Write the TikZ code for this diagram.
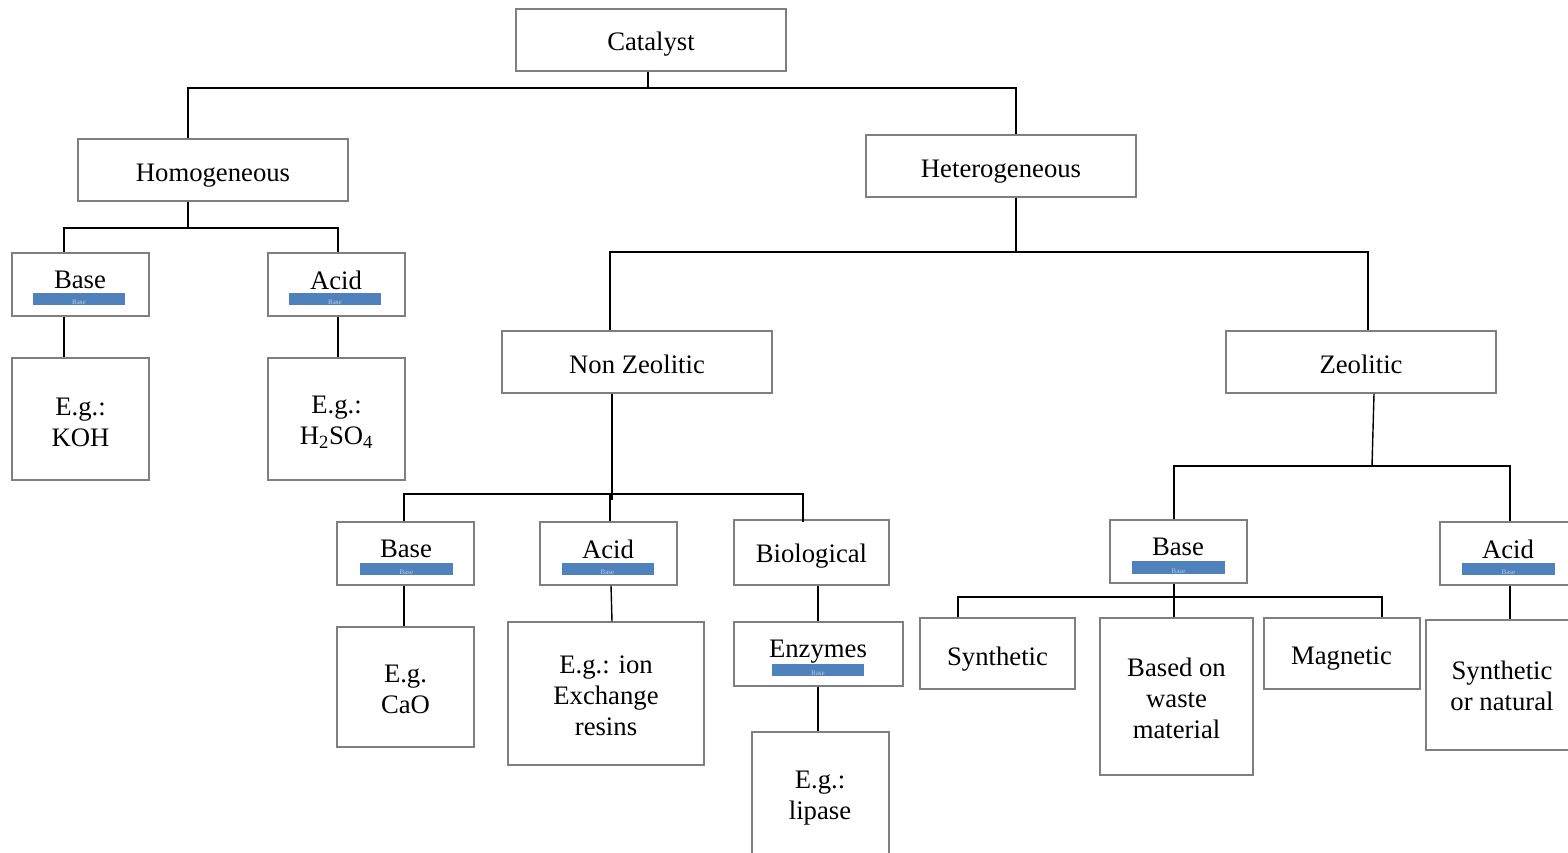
\documentclass[tikz,border=0pt]{standalone}
\usepackage{fontspec}
\setmainfont{Liberation Serif}
\definecolor{boxgray}{HTML}{7F7F7F}
\definecolor{barblue}{HTML}{4F81BD}
\definecolor{bartext}{HTML}{B9CDE8}
\begin{document}
\begin{tikzpicture}[x=1pt,y=-1pt,
  box/.style={draw=boxgray, line width=1.2pt, fill=white, inner sep=0pt},
  lbl/.style={inner sep=0pt, align=center, font=\fontsize{26.7}{31}\selectfont},
  bar/.style={fill=barblue, inner sep=0pt, minimum width=92pt, minimum height=12pt},
  bartxt/.style={inner sep=0pt, font=\fontsize{7}{7}\selectfont, text=bartext},
  conn/.style={line width=2pt, black},
  connthin/.style={line width=1.4pt, black}]
\useasboundingbox (0,0) rectangle (1568,853);
\clip (0,0) rectangle (1568,853);

% top levels
\node[box, minimum width=270pt, minimum height=62pt] (cat)  at (651,40)  {};
\node[lbl] (catt) at (651,44) {Catalyst};
\node[box, minimum width=270pt, minimum height=62pt] (homo) at (213,170) {};
\node[lbl] (homot) at (213,176) {Homogeneous};
\node[box, minimum width=270pt, minimum height=62pt] (het)  at (1001,166) {};
\node[lbl] (hett) at (1001,172) {Heterogeneous};

% homogeneous branch
\node[box, minimum width=137pt, minimum height=63pt] (base1) at (80.5,284.5) {};
\node[lbl] (base1t) at (80,280) {Base};
\node[bar] (base1b) at (79,299) {};
\node[bartxt] (base1x) at (79,302) {Base};
\node[box, minimum width=137pt, minimum height=63pt] (acid1) at (336.5,284.5) {};
\node[lbl] (acid1t) at (336,280) {Acid};
\node[bar] (acid1b) at (335,299) {};
\node[bartxt] (acid1x) at (335,302) {Base};
\node[box, minimum width=137pt, minimum height=122pt] (koh) at (80.5,419) {};
\node[lbl] (koht) at (80.5,422) {E.g.:\\KOH};
\node[box, minimum width=137pt, minimum height=122pt] (hso) at (336.5,419) {};
\node[lbl] (hsot) at (336.5,422.5) {E.g.:\\H\textsubscript{2}SO\textsubscript{4}};

% heterogeneous branch
\node[box, minimum width=270pt, minimum height=62pt] (nz)  at (637,362)  {};
\node[lbl] (nzt) at (637,364) {Non Zeolitic};
\node[box, minimum width=270pt, minimum height=62pt] (zeo) at (1361,362) {};
\node[lbl] (zeot) at (1361,364) {Zeolitic};

% non zeolitic
\node[box, minimum width=137pt, minimum height=63pt] (base2) at (405.5,553.5) {};
\node[lbl] (base2t) at (406,549) {Base};
\node[bar, minimum width=93pt] (base2b) at (406.5,569) {};
\node[bartxt] (base2x) at (406.5,572) {Base};
\node[box, minimum width=137pt, minimum height=63pt] (acid2) at (608.5,553.5) {};
\node[lbl] (acid2t) at (608,549) {Acid};
\node[bar] (acid2b) at (607.5,569) {};
\node[bartxt] (acid2x) at (607.5,572) {Base};
\node[box, minimum width=155pt, minimum height=65pt] (bio) at (811.5,552.5) {};
\node[lbl] (biot) at (811.5,556) {Biological};
\node[box, minimum width=137pt, minimum height=120pt] (cao) at (405.5,687) {};
\node[lbl] (caot) at (405.5,689.5) {E.g.\\CaO};
\node[box, minimum width=196pt, minimum height=143pt] (ion) at (606,693.5) {};
\node[lbl] (iont) at (606,696) {E.g.: ion\\Exchange\\resins};
\node[box, minimum width=169pt, minimum height=64pt] (enz) at (818.5,654) {};
\node[lbl] (enzt) at (818,652) {Enzymes};
\node[bar] (enzb) at (818,670) {};
\node[bartxt] (enzx) at (818,673) {Base};
\node[box, minimum width=137pt, minimum height=148pt] (lip) at (820.5,806) {};
\node[lbl] (lipt) at (820,798) {E.g.:\\lipase};

% zeolitic
\node[box, minimum width=137pt, minimum height=63pt] (base3) at (1178.5,551.5) {};
\node[lbl] (base3t) at (1178,547) {Base};
\node[bar, minimum width=93pt, minimum height=13pt] (base3b) at (1178.5,567.5) {};
\node[bartxt] (base3x) at (1178.5,571) {Base};
\node[box, minimum width=137pt, minimum height=63pt] (acid3) at (1508.5,553.5) {};
\node[lbl] (acid3t) at (1508,549) {Acid};
\node[bar, minimum width=93pt] (acid3b) at (1508.5,568.5) {};
\node[bartxt] (acid3x) at (1508.5,572) {Base};
\node[box, minimum width=155pt, minimum height=71pt] (syn) at (997.5,653.5) {};
\node[lbl] (synt) at (997.5,659) {Synthetic};
\node[box, minimum width=153pt, minimum height=157pt] (waste) at (1176.5,696.5) {};
\node[lbl] (wastet) at (1176.5,698) {Based on\\waste\\material};
\node[box, minimum width=156pt, minimum height=71pt] (mag) at (1342,653.5) {};
\node[lbl] (magt) at (1341.5,659) {Magnetic};
\node[box, minimum width=152pt, minimum height=130pt] (nat) at (1502,685) {};
\node[lbl] (natt) at (1502,686) {Synthetic\\or natural};

% junction points
\coordinate (j0) at (648,88);
\coordinate (j1) at (188,228);
\coordinate (j2) at (1016,252);
\coordinate (j3) at (612,494);
\coordinate (j4) at (1372,466);
\coordinate (j5) at (1174,597);

% connectors
\draw[conn] (cat.south -| j0) -- (j0);
\draw[conn] (homo.north -| j1) |- (j0) -| (het.north -| j2);
\draw[conn] (homo.south -| j1) -- (j1);
\draw[conn] (base1.north -| 64,0) |- (j1) -| (acid1.north -| 338,0);
\draw[conn] (base1.south -| 64,0) -- (koh.north -| 64,0);
\draw[conn] (acid1.south -| 338,0) -- (hso.north -| 338,0);

\draw[conn] (het.south -| j2) -- (j2);
\draw[conn] (nz.north -| 610,0) |- (j2) -| (zeo.north -| 1368,0);

\draw[conn] (nz.south -| j3) -- ([yshift=-6pt]j3);
\draw[conn] (base2.north -| 404,0) |- (j3) -| ([yshift=-3pt]bio.north -| 803,0);
\draw[conn] (acid2.north -| 610,0) -- (j3 -| 610,0);
\draw[conn] (base2.south -| 404,0) -- (cao.north -| 404,0);
\draw[connthin] (acid2.south -| 611,0) -- (ion.north -| 612,0);
\draw[conn] (bio.south -| 818,0) -- (enz.north -| 818,0);
\draw[conn] (enz.south -| 818,0) -- (lip.north -| 818,0);

\draw[connthin] (zeo.south -| 1374,0) -- (j4);
\draw[conn] (base3.north -| j5) |- (j4) -| (acid3.north -| 1510,0);
\draw[conn] (base3.south -| j5) -- (j5);
\draw[conn] (syn.north -| 958,0) |- (j5) -| (mag.north -| 1382,0);
\draw[conn] (waste.north -| j5) -- (j5);
\draw[conn] (acid3.south -| 1510,0) -- (nat.north -| 1510,0);
\end{tikzpicture}
\end{document}
